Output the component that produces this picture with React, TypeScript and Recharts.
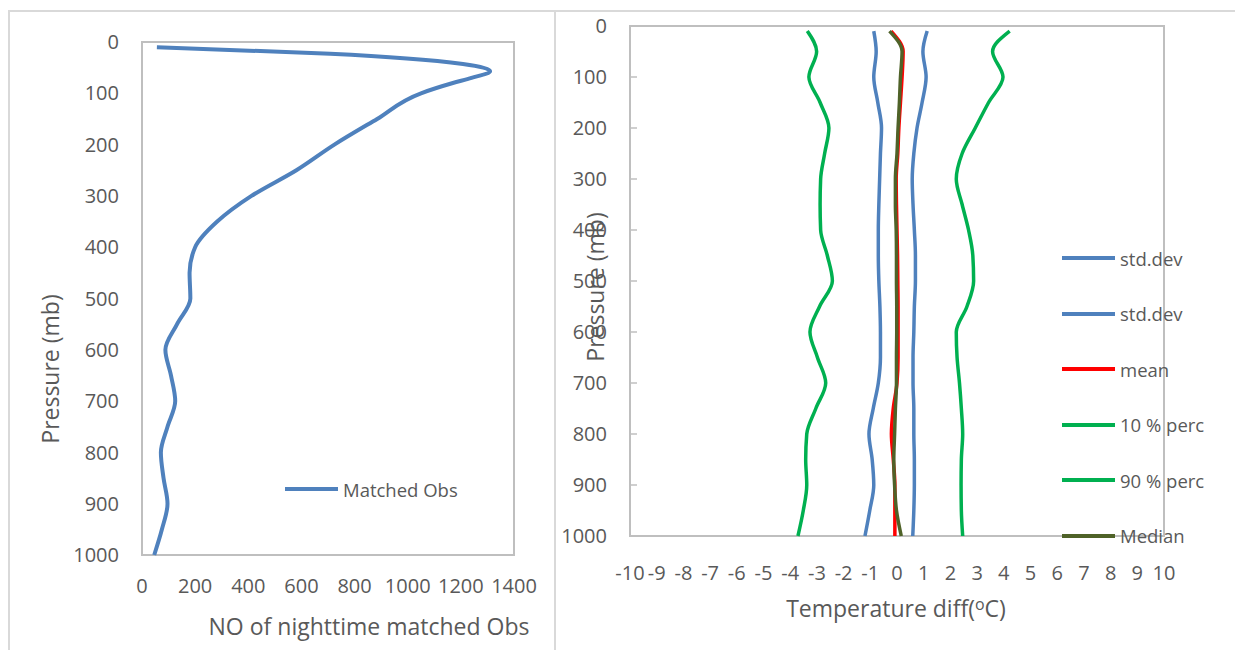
import { LineChart, Line, XAxis, YAxis, ReferenceArea, Legend } from 'recharts'

const FONT = '"Open Sans", sans-serif'
const TEXT = '#595959'
const FRAME = '#bfbfbf'
const BLUE = '#4f81bd'
const GREEN = '#00b050'

// left panel: nighttime matched observations per pressure level
const obsPressure = [10, 23, 43, 57, 70, 80, 100, 150, 200, 250, 300, 350, 400, 450, 500, 550, 600, 650, 700, 750, 800, 850, 900, 950, 1000]
const obsCount = [56, 708, 1208, 1310, 1240, 1170, 1050, 885, 724, 581, 412, 283, 200, 179, 182, 132, 88, 109, 125, 96, 71, 81, 96, 75, 46]
const obsTicksX = [0, 200, 400, 600, 800, 1000, 1200, 1400]

// right panel: temperature difference statistics
const levels = [10, 50, 100, 150, 200, 250, 300, 350, 400, 450, 500, 550, 600, 650, 700, 750, 800, 850, 900, 950, 1000]
const stdLow = [-0.87, -0.78, -0.87, -0.72, -0.58, -0.62, -0.65, -0.68, -0.7, -0.7, -0.68, -0.64, -0.62, -0.62, -0.7, -0.89, -1.05, -0.93, -0.87, -1.02, -1.2]
const stdHigh = [1.13, 0.97, 1.09, 0.94, 0.75, 0.63, 0.57, 0.6, 0.65, 0.69, 0.69, 0.65, 0.63, 0.6, 0.6, 0.63, 0.63, 0.65, 0.65, 0.63, 0.59]
const mean = [-0.22, 0.23, 0.19, 0.13, 0.07, 0.03, -0.03, -0.02, 0.0, 0.02, 0.03, 0.04, 0.04, 0.04, 0.0, -0.14, -0.21, -0.14, -0.08, -0.08, -0.08]
const perc10 = [-3.36, -3.01, -3.3, -2.88, -2.55, -2.71, -2.86, -2.88, -2.86, -2.61, -2.42, -2.9, -3.26, -2.98, -2.67, -3.04, -3.38, -3.42, -3.38, -3.51, -3.71]
const perc90 = [4.22, 3.58, 3.97, 3.43, 2.93, 2.44, 2.22, 2.44, 2.68, 2.84, 2.87, 2.62, 2.22, 2.25, 2.34, 2.41, 2.46, 2.41, 2.4, 2.41, 2.46]
const median = [-0.28, 0.19, 0.13, 0.09, 0.04, 0.0, -0.06, -0.06, -0.03, -0.02, -0.02, -0.01, -0.01, -0.02, -0.02, -0.06, -0.09, -0.12, -0.09, -0.02, 0.16]
const diffTicksX = [-10, -9, -8, -7, -6, -5, -4, -3, -2, -1, 0, 1, 2, 3, 4, 5, 6, 7, 8, 9, 10]
const pressureTicks = [0, 100, 200, 300, 400, 500, 600, 700, 800, 900, 1000]

const obsRows = obsPressure.map((p, i) => ({ p, obs: obsCount[i] }))
const diffRows = levels.map((p, i) => ({
  p,
  stdLow: stdLow[i],
  stdHigh: stdHigh[i],
  mean: mean[i],
  perc10: perc10[i],
  perc90: perc90[i],
  median: median[i],
}))

const obsSeries = [{ key: 'obs', name: 'Matched Obs', color: BLUE }]
const diffSeries = [
  { key: 'stdLow', name: 'std.dev', color: BLUE },
  { key: 'stdHigh', name: 'std.dev', color: BLUE },
  { key: 'mean', name: 'mean', color: '#ff0000' },
  { key: 'perc10', name: '10 % perc', color: GREEN },
  { key: 'perc90', name: '90 % perc', color: GREEN },
  { key: 'median', name: 'Median', color: '#4f6228' },
]

const tickStyle = { fill: TEXT, fontSize: 20, fontFamily: FONT }

const legendContent = (items: { name: string; color: string }[], gap: number) => () => (
  <div>
    {items.map((s, i) => (
      <div key={i} style={{ display: 'flex', alignItems: 'center', height: 26, marginBottom: gap }}>
        <svg width={53} height={6} style={{ display: 'block' }}>
          <line x1={0} y1={3} x2={53} y2={3} stroke={s.color} strokeWidth={4} />
        </svg>
        <span style={{ marginLeft: 5, fontSize: 18.5, color: TEXT, fontFamily: FONT, whiteSpace: 'nowrap' }}>{s.name}</span>
      </div>
    ))}
  </div>
)

const title = (text: React.ReactNode, x: number, y: number, rotate = false) => (
  <div
    style={{
      position: 'absolute',
      left: x,
      top: y,
      transform: `translate(-50%, -50%)${rotate ? ' rotate(-90deg)' : ''}`,
      whiteSpace: 'nowrap',
      fontSize: 23,
      color: TEXT,
      fontFamily: FONT,
      lineHeight: '30px',
    }}
  >
    {text}
  </div>
)

export default function App() {
  return (
    <div style={{ position: 'absolute', left: 0, top: 0, width: 1235, height: 650, background: '#fff', overflow: 'hidden' }}>
      <div style={{ position: 'absolute', left: 8, top: 10, width: 548, height: 700, boxSizing: 'border-box', border: '2px solid #d9d9d9' }} />
      <div style={{ position: 'absolute', left: 556, top: 10, width: 700, borderTop: '2px solid #d9d9d9' }} />

      <div style={{ position: 'absolute', left: 0, top: 0 }}>
        <LineChart width={560} height={650} layout="vertical" data={obsRows} margin={{ top: 42, right: 46, bottom: 65, left: 82 }}>
          <XAxis type="number" domain={[0, 1400]} ticks={obsTicksX} interval={0} height={30} axisLine={false} tickLine={false} tickSize={0} tickMargin={24} tick={tickStyle} />
          <YAxis type="number" dataKey="p" domain={[0, 1000]} ticks={pressureTicks} interval={0} width={60} axisLine={false} tickLine={false} tickSize={0} tickMargin={23} tick={tickStyle} />
          <ReferenceArea x1={0} x2={1400} y1={0} y2={1000} fill="none" stroke={FRAME} strokeWidth={2} />
          <Line dataKey="obs" name="Matched Obs" type="monotone" stroke={BLUE} strokeWidth={4} dot={false} isAnimationActive={false} />
          <Legend layout="horizontal" verticalAlign="middle" align="center" wrapperStyle={{ left: 285, top: 476, width: 200 }} content={legendContent(obsSeries, 0)} />
        </LineChart>
      </div>

      <div style={{ position: 'absolute', left: 555, top: 0 }}>
        <LineChart width={680} height={650} layout="vertical" data={diffRows} margin={{ top: 26, right: 71, bottom: 84, left: 15 }}>
          <XAxis type="number" domain={[-10, 10]} ticks={diffTicksX} interval={0} height={30} axisLine={false} tickLine={false} tickSize={0} tickMargin={30} tick={tickStyle} />
          <YAxis type="number" dataKey="p" domain={[0, 1000]} ticks={pressureTicks} interval={0} width={60} axisLine={false} tickLine={{ stroke: FRAME, strokeWidth: 1.5 }} tickSize={-7} tickMargin={30} tick={tickStyle} />
          <ReferenceArea x1={-10} x2={10} y1={0} y2={1000} fill="none" stroke={FRAME} strokeWidth={2} />
          {diffSeries.map((s) => (
            <Line key={s.key} dataKey={s.key} name={s.name} type="monotone" stroke={s.color} strokeWidth={3.5} dot={false} isAnimationActive={false} />
          ))}
          <Legend layout="horizontal" verticalAlign="middle" align="center" wrapperStyle={{ left: 507, top: 245, width: 170 }} content={legendContent(diffSeries, 29.5)} />
        </LineChart>
      </div>

      {title('NO of nighttime matched Obs', 369, 626)}
      {title('Pressure (mb)', 50, 369, true)}
      {title(<>Temperature diff(<span style={{ fontSize: 16, position: 'relative', top: -7 }}>o</span>C)</>, 896, 609)}
      {title('Pressure (mb)', 595, 287, true)}
    </div>
  )
}
